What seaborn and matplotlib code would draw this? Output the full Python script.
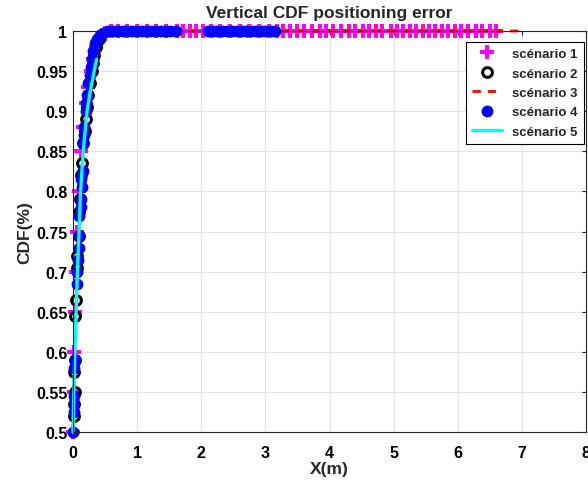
"""Vertical CDF positioning error — five scenarios."""

import matplotlib

matplotlib.use("Agg")
import matplotlib.pyplot as plt
import pandas as pd
import seaborn as sns
from matplotlib.ticker import FuncFormatter, MultipleLocator

# Body of the CDF curves (x error in m, CDF)
s1_x = [0.0, 0.01, 0.02, 0.03, 0.05, 0.07, 0.09, 0.12, 0.16, 0.2, 0.24, 0.28, 0.32, 0.36, 0.42, 0.5, 0.6]
s1_y = [0.5, 0.55, 0.6, 0.65, 0.7, 0.75, 0.8, 0.85, 0.88, 0.91, 0.93, 0.95, 0.965, 0.98, 0.99, 0.998, 1.0]
s1_tail = [0.7, 0.85, 1.0, 1.15, 1.3, 1.45, 1.62, 1.72, 1.82, 1.92, 2.02, 2.15, 2.3, 2.45, 2.6,
           2.75, 2.9, 3.05, 3.18, 3.28, 3.38, 3.5, 3.6, 3.72, 3.85, 3.95, 4.05, 4.18, 4.3, 4.4,
           4.52, 4.62, 4.72, 4.82, 4.95, 5.05, 5.15, 5.25, 5.35, 5.45, 5.55, 5.65, 5.75, 5.85,
           5.95, 6.05, 6.15, 6.28, 6.38, 6.5, 6.6]

s2_x = [0.01, 0.02, 0.03, 0.02, 0.03, 0.04, 0.05, 0.06, 0.07, 0.09, 0.1, 0.11, 0.12, 0.14, 0.16,
        0.19, 0.2, 0.22, 0.24, 0.26, 0.29, 0.31, 0.33, 0.36, 0.4]
s2_y = [0.52, 0.535, 0.55, 0.575, 0.59, 0.645, 0.665, 0.705, 0.72, 0.745, 0.775, 0.79, 0.82, 0.835,
        0.86, 0.875, 0.89, 0.905, 0.92, 0.935, 0.95, 0.96, 0.97, 0.98, 0.99]

s3_x = [0.0, 0.02, 0.04, 0.06, 0.08, 0.11, 0.15, 0.2, 0.26, 0.32, 0.38, 0.45, 0.6, 7.0]
s3_y = [0.5, 0.57, 0.63, 0.69, 0.74, 0.8, 0.85, 0.9, 0.94, 0.965, 0.985, 0.997, 1.0, 1.0]

s4_x = [0.0, 0.01, 0.02, 0.01, 0.02, 0.03, 0.06, 0.07, 0.08, 0.09, 0.1, 0.1, 0.12, 0.13, 0.14, 0.13,
        0.15, 0.15, 0.17, 0.18, 0.2, 0.21, 0.22, 0.24, 0.26, 0.28, 0.3, 0.32, 0.35, 0.38, 0.42, 0.47]
s4_y = [0.5, 0.525, 0.535, 0.545, 0.58, 0.59, 0.685, 0.7, 0.715, 0.73, 0.745, 0.77, 0.78, 0.79,
        0.805, 0.815, 0.825, 0.86, 0.87, 0.88, 0.9, 0.91, 0.92, 0.935, 0.945, 0.955, 0.965, 0.975,
        0.985, 0.99, 0.995, 0.998]
s4_tail = [0.55, 0.62, 0.7, 0.78, 0.85, 0.92, 1.0, 1.08, 1.15, 1.22, 1.3, 1.38, 1.45, 1.52, 1.6,
           2.1, 2.18, 2.25, 2.33, 2.4, 2.48, 2.55, 2.63, 2.7, 2.78, 2.85, 2.93, 3.0, 3.08, 3.15]

s5_x = [0.0, 0.03, 0.07, 0.12, 0.16, 0.22, 0.27, 0.33, 0.37]
s5_y = [0.5, 0.6, 0.7, 0.8, 0.85, 0.9, 0.925, 0.95, 0.965]

labels = ["scénario 1", "scénario 2", "scénario 3", "scénario 4", "scénario 5"]

sns.set_style("white")
plt.rcParams["font.family"] = ["Liberation Sans", "DejaVu Sans"]
plt.rcParams["font.weight"] = "bold"

fig = plt.figure(figsize=(5.88, 4.85), dpi=100)
ax = fig.add_axes([0.124, 0.107, 0.873, 0.827])

d1 = pd.DataFrame({"x": s1_x + s1_tail, "y": s1_y + [1.0] * len(s1_tail)})
d2 = pd.DataFrame({"x": s2_x, "y": s2_y})
d3 = pd.DataFrame({"x": s3_x, "y": s3_y})
d4 = pd.DataFrame({"x": s4_x + s4_tail, "y": s4_y + [1.0] * len(s4_tail)})
d5 = pd.DataFrame({"x": s5_x, "y": s5_y})

common = dict(x="x", y="y", estimator=None, sort=False, ax=ax, clip_on=False)
sns.lineplot(data=d1, **common, color="#ff00ff", marker="P", markersize=9.5,
             markeredgewidth=0, linestyle="none", label=labels[0])
sns.lineplot(data=d2, **common, color="black", marker="o", markersize=7,
             markerfacecolor="none", markeredgecolor="black", markeredgewidth=2.2,
             linestyle="none", label=labels[1])
sns.lineplot(data=d3, **common, color="#ff0000", linewidth=2, dashes=(3, 2.5),
             label=labels[2])
sns.lineplot(data=d4, **common, color="#0000ff", marker="o", markersize=8.5,
             markeredgewidth=0, linestyle="none", label=labels[3])
sns.lineplot(data=d5, **common, color="#00ffff", linewidth=2.4, label=labels[4])

ax.set_xlim(0, 8)
ax.set_ylim(0.5, 1.0)
ax.xaxis.set_major_locator(MultipleLocator(1))
ax.yaxis.set_major_locator(MultipleLocator(0.05))
ax.yaxis.set_major_formatter(FuncFormatter(lambda v, _: f"{v:g}"))
ax.grid(True, color="#e3e3e3", linewidth=0.8)
ax.set_axisbelow(True)
for sp in ax.spines.values():
    sp.set_color("#262626")
    sp.set_linewidth(0.8)
ax.tick_params(direction="in", top=True, right=True, length=3, labelsize=11.5,
               colors="#262626", labelcolor="black", pad=4)
ax.tick_params(axis="x", pad=9)
for lab in ax.get_xticklabels() + ax.get_yticklabels():
    lab.set_fontweight("bold")

ax.set_title("Vertical CDF positioning error", fontsize=12.5, fontweight="bold", pad=10)
ax.set_xlabel("X(m)", fontsize=12.5, fontweight="bold", labelpad=1)
ax.set_ylabel("CDF(%)", fontsize=12.5, fontweight="bold", labelpad=3)

leg = ax.legend(loc="upper right", bbox_to_anchor=(0.995, 0.973), fontsize=9.5,
                frameon=True, fancybox=False, framealpha=1, edgecolor="black",
                borderpad=0.45, labelspacing=0.55, handlelength=2.3, handletextpad=0.75,
                borderaxespad=0)
leg.get_frame().set_linewidth(0.8)
for t in leg.get_texts():
    t.set_fontweight("bold")

fig.savefig("out.png", dpi=100)
